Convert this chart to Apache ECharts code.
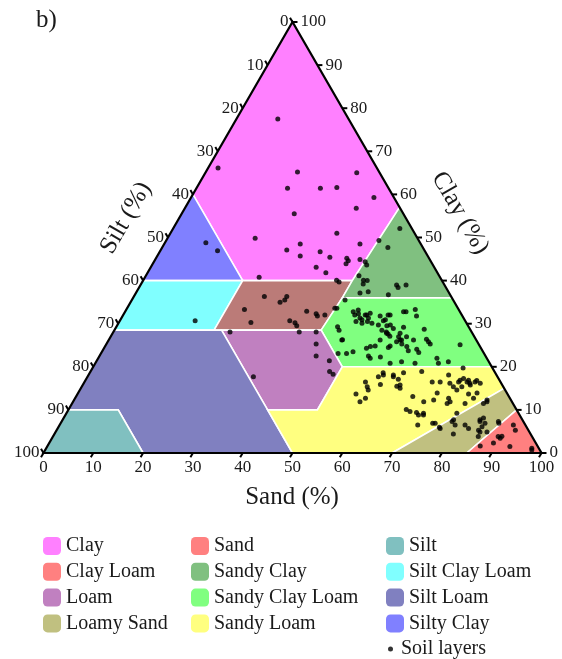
<!DOCTYPE html>
<html>
<head>
<meta charset="utf-8">
<script src="https://cdn.jsdelivr.net/npm/echarts@6/dist/echarts.min.js"></script>
<style>
  html, body { margin: 0; padding: 0; background: #fff; }
  #chart { width: 562px; height: 659px; }
</style>
</head>
<body>
<div id="chart"></div>
<script>
// Soil layer samples: sand and clay percentages (silt = 100 - sand - clay)
const sand = [
  8.3, 2.0, 18.4, 30.4, 18.3, 24.9, 28.1, 36.7, 34.4, 8.2, 11.5, 17.6, 22.6, 25.3, 27.3, 28.7, 22.9, 33.4, 32.2, 34.8,
  33.2, 35.8, 38.3, 38.9, 38.8, 39.3, 38.8, 39.5,
  41.1, 42.4, 43.1, 42.8, 44.2, 45.0, 44.6, 46.5, 50.9, 52.0, 53.3, 42.7, 45.3, 45.5, 51.4, 45.0,
  15.1,
  26.2, 23.7, 26.5, 30.7, 30.7, 30.0, 34.1, 36.1, 37.3, 36.4, 38.6, 39.1, 40.5, 40.7, 35.4,
  23.4, 33.3, 42.1, 43.5, 46.7, 48.0, 49.0,
  41.7, 44.4, 45.1, 46.8, 47.6, 49.3, 50.4, 45.8, 46.5, 47.1, 47.9, 47.5, 48.9, 48.9, 49.6, 49.8, 51.7, 52.9, 52.4, 54.2,
  54.8, 55.4, 53.6, 55.9, 56.4, 58.0, 59.0, 57.7, 57.8, 58.0, 56.0, 54.5, 54.2, 53.3, 52.7, 54.0, 54.6, 57.2, 57.0, 58.5,
  59.3, 60.6, 61.4, 62.9, 63.7, 62.1, 63.7, 64.4, 65.0, 68.0, 68.9, 70.7, 71.1, 64.2, 61.3, 59.2, 56.5, 46.6, 48.5, 48.6,
  49.4, 50.9, 53.2, 53.2, 54.8, 53.7, 55.0, 55.8, 57.7, 58.8, 59.4, 61.2, 42.8, 42.1, 46.9,
  56.4, 57.3, 57.9, 55.9, 57.6, 58.3, 58.4, 58.9, 59.7, 61.4, 62.7, 63.2, 64.1, 63.0, 67.6, 67.8, 68.8, 70.2, 71.9, 71.9,
  74.7, 66.5, 69.8, 71.4, 70.4, 72.2, 72.1, 75.0, 75.3, 72.3, 73.5, 74.6, 75.7, 75.2, 75.7, 76.8, 77.5, 78.4, 79.6, 80.1,
  78.9, 78.5, 80.0, 74.4, 59.2, 61.2, 63.7, 75.7, 75.1, 76.3, 76.9, 77.8, 78.6, 70.9, 71.7,
  78.5, 79.4, 76.5, 80.1, 82.5, 83.8, 85.2, 82.9, 82.6, 88.0, 85.2, 86.6, 85.4, 83.1, 75.2, 76.8, 78.4, 78.4, 81.4, 84.0,
  85.0, 84.7, 84.3, 87.7,
  91.1, 92.1, 89.4, 90.0, 90.1, 89.2, 92.9, 97.5, 86.9, 97.7
];
const clay = [
  77.5, 66.1, 65.2, 65.0, 61.4, 61.4, 61.6, 59.3, 56.8, 48.8, 46.9, 49.8, 55.5, 47.1, 48.5, 45.7, 40.8, 51.0, 46.7, 45.4,
  43.1, 41.8, 45.2, 44.6, 43.9, 48.5, 40.1, 39.7,
  44.9, 44.4, 43.6, 41.1, 40.1, 40.0, 39.2, 37.4, 36.7, 38.4, 39.0, 49.3, 47.7, 52.1, 39.0, 37.1,
  30.7,
  36.3, 33.3, 30.3, 36.3, 35.5, 35.0, 30.7, 29.5, 28.1, 32.9, 32.3, 31.8, 32.0, 28.1, 30.2,
  28.1, 17.7, 25.3, 22.5, 21.4, 18.9, 18.3,
  33.6, 29.3, 28.5, 26.2, 23.1, 23.1, 23.5, 32.8, 32.0, 32.3, 31.3, 30.5, 30.1, 32.0, 31.3, 30.5, 31.8, 30.7, 29.7, 29.5,
  28.1, 27.6, 32.0, 32.8, 32.8, 33.3, 31.8, 29.2, 27.0, 25.8, 27.1, 26.2, 24.8, 24.7, 24.3, 22.5, 22.0, 24.8, 24.5, 26.2,
  25.3, 24.7, 23.7, 24.1, 23.3, 28.7, 26.4, 25.8, 25.3, 22.0, 20.8, 21.2, 25.1, 20.8, 21.2, 20.8, 22.3, 33.2, 30.9, 32.0,
  32.4, 30.1, 30.9, 32.0, 29.7, 28.5, 27.8, 28.9, 27.8, 26.2, 27.0, 26.2, 35.5, 33.6, 26.3,
  16.5, 15.4, 14.6, 13.7, 11.9, 12.7, 17.7, 18.6, 15.9, 17.7, 17.1, 15.5, 15.0, 18.6, 13.1, 10.1, 9.6, 9.4, 8.8, 6.5,
  6.9, 18.9, 16.5, 16.5, 11.9, 12.3, 13.9, 12.7, 11.5, 18.1, 16.2, 15.4, 14.6, 16.9, 17.3, 16.5, 16.2, 16.5, 16.2, 13.9,
  11.5, 13.7, 12.7, 19.7, 18.1, 18.1, 15.8, 11.9, 16.5, 15.4, 16.9, 15.8, 16.8, 8.8, 9.2,
  7.7, 6.5, 6.0, 4.4, 5.7, 7.7, 6.9, 12.3, 11.5, 6.9, 4.9, 4.9, 3.8, 11.9, 6.9, 5.7, 7.3, 9.2, 6.5, 7.3,
  6.1, 5.3, 8.1, 7.3,
  6.5, 5.3, 3.8, 3.4, 3.9, 2.3, 1.5, 1.1, 1.6, 0.7
];

// Texture classes: name and boundary vertices as [sand %, clay %]
const classNames = [
  'Clay', 'Silty Clay', 'Silt Clay Loam', 'Clay Loam', 'Sandy Clay', 'Sandy Clay Loam',
  'Loam', 'Silt Loam', 'Silt', 'Sandy Loam', 'Loamy Sand', 'Sand'
];
const classVertices = [
  [[0, 100], [43, 57], [42, 40], [20, 40], [0, 60]],
  [[0, 60], [20, 40], [0, 40]],
  [[0, 40], [20, 40], [20, 28.5], [0, 28.5]],
  [[20, 40], [42, 40], [42, 36], [41.5, 28.5], [20, 28.5]],
  [[42, 36], [64, 36], [43, 57], [42, 40]],
  [[42, 36], [64, 36], [80, 20], [50, 20], [41.5, 28.5]],
  [[21.5, 28.5], [41.5, 28.5], [50, 20], [50, 10], [40, 10]],
  [[0, 28.5], [21.5, 28.5], [40, 10], [50, 0], [20, 0], [10, 10], [0, 10]],
  [[0, 10], [10, 10], [20, 0], [0, 0]],
  [[50, 0], [40, 10], [50, 10], [50, 20], [80, 20], [85, 15], [70, 0]],
  [[70, 0], [85, 15], [90, 10], [85, 0]],
  [[85, 0], [90, 10], [100, 0]]
];
const classFill = {
  'Clay': '#ff80ff', 'Silty Clay': '#8080ff', 'Silt Clay Loam': '#80ffff', 'Clay Loam': '#bb7b78',
  'Sandy Clay': '#80c080', 'Sandy Clay Loam': '#80ff80', 'Loam': '#c080c0', 'Silt Loam': '#8080c0',
  'Silt': '#80c0c0', 'Sandy Loam': '#ffff80', 'Loamy Sand': '#c0c080', 'Sand': '#ff8080'
};
const classLegendColor = Object.assign({}, classFill, { 'Clay Loam': '#ff8080' });

// Axis tick values (percent)
const tickValues = [0, 10, 20, 30, 40, 50, 60, 70, 80, 90, 100];

const legendCol1 = ['Clay', 'Clay Loam', 'Loam', 'Loamy Sand'];
const legendCol2 = ['Sand', 'Sandy Clay', 'Sandy Clay Loam', 'Sandy Loam'];
const legendCol3 = ['Silt', 'Silt Clay Loam', 'Silt Loam', 'Silty Clay'];

// Ternary (sand, clay) -> plane (x, y) with y expressed in clay units
function tern(s, c) { return [s + c / 2, c]; }

const FONT = '"Liberation Serif", "Times New Roman", serif';
const TXT = '#1a1a1a';

const regionSeries = classNames.map(function (name, k) {
  const verts = classVertices[k];
  return {
    type: 'custom',
    name: name,
    coordinateSystem: 'cartesian2d',
    itemStyle: { color: classLegendColor[name] },
    data: [[0, 0]],
    silent: true,
    z: 1,
    renderItem: function (params, api) {
      return {
        type: 'polygon',
        shape: { points: verts.map(function (v) { return api.coord(tern(v[0], v[1])); }) },
        style: { fill: classFill[name], stroke: '#ffffff', lineWidth: 1.6 }
      };
    }
  };
});

function txt(x, y, s, align, valign) {
  return {
    type: 'text', x: x, y: y,
    style: {
      text: s, fill: TXT, font: '17px ' + FONT,
      textAlign: align, textVerticalAlign: valign, align: align, verticalAlign: valign
    }
  };
}

const frameSeries = {
  type: 'custom',
  name: 'frame',
  coordinateSystem: 'cartesian2d',
  data: [[0, 0]],
  silent: true,
  z: 3,
  renderItem: function (params, api) {
    const kids = [];
    const A = api.coord(tern(0, 0)), B = api.coord(tern(100, 0)), T = api.coord(tern(0, 100));
    kids.push({
      type: 'polygon',
      shape: { points: [A, B, T] },
      style: { fill: null, stroke: '#000', lineWidth: 2.2, lineJoin: 'miter' }
    });
    const L = 5;
    tickValues.forEach(function (v) {
      // Sand axis (bottom)
      let p = api.coord(tern(v, 0));
      kids.push({ type: 'line', shape: { x1: p[0], y1: p[1], x2: p[0] - L * 0.5, y2: p[1] + L * 0.866 },
        style: { stroke: '#000', lineWidth: 2 } });
      kids.push(txt(p[0], p[1] + 6, String(v), 'center', 'top'));
      // Clay axis (right edge)
      p = api.coord(tern(100 - v, v));
      kids.push({ type: 'line', shape: { x1: p[0], y1: p[1], x2: p[0] + L, y2: p[1] },
        style: { stroke: '#000', lineWidth: 2 } });
      kids.push(txt(p[0] + 8, p[1], String(v), 'left', 'middle'));
      // Silt axis (left edge)
      p = api.coord(tern(0, 100 - v));
      kids.push({ type: 'line', shape: { x1: p[0], y1: p[1], x2: p[0] - L * 0.5, y2: p[1] - L * 0.866 },
        style: { stroke: '#000', lineWidth: 2 } });
      kids.push(txt(p[0] - 4, p[1], String(v), 'right', 'middle'));
    });
    return { type: 'group', children: kids };
  }
};

const pointSeries = {
  type: 'scatter',
  name: 'Soil layers',
  symbol: 'circle',
  symbolSize: 5,
  itemStyle: { color: '#000' },
  z: 4,
  data: sand.map(function (s, i) { return tern(s, clay[i]); })
};

function legendCol(names, left) {
  return {
    orient: 'vertical', left: left, top: 531,
    icon: 'roundRect', itemWidth: 18, itemHeight: 18, itemGap: 5.8,
    textStyle: { fontFamily: FONT, fontSize: 20, color: TXT },
    data: names
  };
}

const chart = echarts.init(document.getElementById('chart'), null, { renderer: 'canvas' });
chart.setOption({
  animation: false,
  backgroundColor: '#fff',
  grid: { left: 43.5, top: 22, width: 498, height: 431, containLabel: false },
  xAxis: { type: 'value', min: 0, max: 100, show: false },
  yAxis: { type: 'value', min: 0, max: 100, show: false },
  legend: [
    legendCol(legendCol1, 38),
    legendCol(legendCol2, 186),
    legendCol(legendCol3, 381),
    {
      orient: 'vertical', left: 383, top: 634,
      icon: 'circle', itemWidth: 5, itemHeight: 5,
      textStyle: { fontFamily: FONT, fontSize: 20, color: TXT, padding: [0, 0, 0, 3] },
      data: ['Soil layers']
    }
  ],
  graphic: [
    { type: 'text', left: 36, top: 8, style: { text: 'b)', font: '25px ' + FONT, fill: TXT } },
    { type: 'text', x: 292, y: 497, style: { text: 'Sand (%)', font: '25px ' + FONT, fill: TXT,
      textAlign: 'center', textVerticalAlign: 'middle', align: 'center', verticalAlign: 'middle' } },
    { type: 'text', x: 126, y: 218, rotation: Math.PI / 3, style: { text: 'Silt (%)', font: '25px ' + FONT, fill: TXT,
      textAlign: 'center', textVerticalAlign: 'middle', align: 'center', verticalAlign: 'middle' } },
    { type: 'text', x: 460, y: 213, rotation: -Math.PI / 3, style: { text: 'Clay (%)', font: '25px ' + FONT, fill: TXT,
      textAlign: 'center', textVerticalAlign: 'middle', align: 'center', verticalAlign: 'middle' } }
  ],
  series: regionSeries.concat([frameSeries, pointSeries])
});
</script>
</body>
</html>
